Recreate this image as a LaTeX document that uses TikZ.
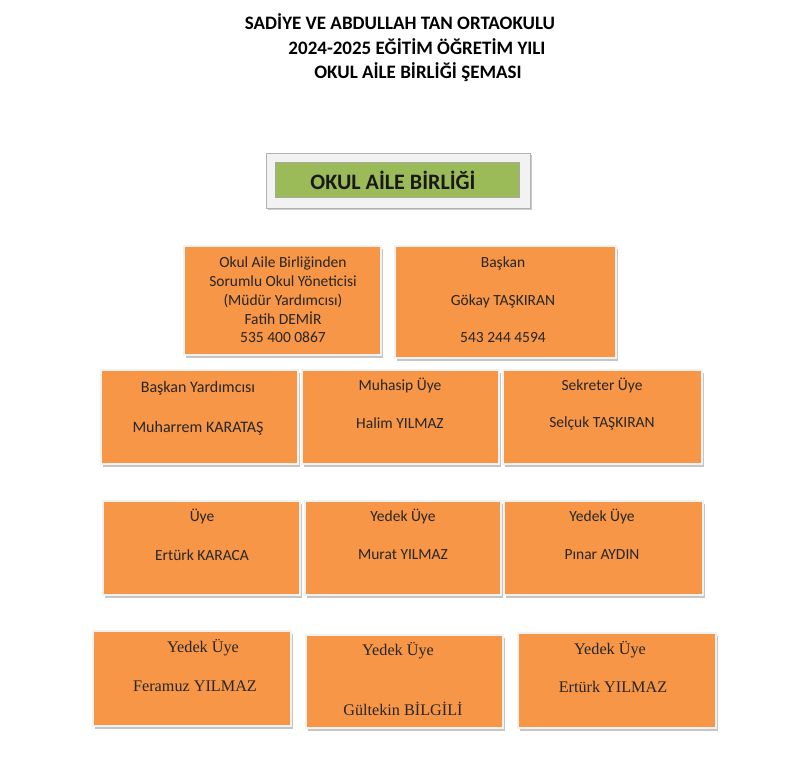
\documentclass[tikz,border=0pt]{standalone}
\usepackage{fontspec}
\setmainfont{Carlito}
\newfontfamily\cambriafont{Liberation Serif}
\usepackage{tikz}
\usetikzlibrary{shadows}
\definecolor{boxorange}{RGB}{247,150,70}
\definecolor{boxgreen}{RGB}{155,187,89}
\definecolor{framegray}{RGB}{242,242,242}

\begin{document}
\begin{tikzpicture}[x=1pt, y=-1pt,
    orangebox/.style={rectangle, fill=boxorange, draw=framegray, line width=2.5pt, inner sep=0pt,
        drop shadow={shadow xshift=1.5pt, shadow yshift=-2.5pt, fill=black!45}},
    lbl/.style={font=\fontsize{15.5}{18.75}\selectfont, text=black!85, inner sep=0pt},
    serlbl/.style={font=\cambriafont\fontsize{16.2}{19}\selectfont, text=black!85, inner sep=0pt},
    titlelbl/.style={font=\bfseries\fontsize{19}{22}\selectfont, inner sep=0pt}]
    \useasboundingbox[fill=white] (0,0) rectangle (811,768);

    \node[titlelbl] (title1) at (400,22) {SADİYE VE ABDULLAH TAN ORTAOKULU};
    \node[titlelbl] (title2) at (417,47) {2024-2025 EĞİTİM ÖĞRETİM YILI};
    \node[titlelbl] (title3) at (418,72) {OKUL AİLE BİRLİĞİ ŞEMASI};

    % header box
    \node[rectangle, fill=framegray, draw=black!30, line width=0.6pt, minimum width=264pt, minimum height=55pt,
        drop shadow={shadow xshift=1.5pt, shadow yshift=-2pt, fill=black!40}] (frame) at (398,180.5) {};
    \node[rectangle, fill=boxgreen, draw=black!35, line width=0.6pt, minimum width=244pt, minimum height=35pt,
        inner sep=0pt] (birlik) at (397,179.5) {};
    \node[font=\bfseries\fontsize{22}{26}\selectfont, text=black!90] (birlikt) at (393,180) {OKUL AİLE BİRLİĞİ};

    % first row
    \node[orangebox, minimum width=197pt, minimum height=109pt] (yonetici) at (282.5,300.5) {};
    \node[orangebox, minimum width=221pt, minimum height=112pt] (baskan) at (505.5,302) {};
    \node[lbl, align=center] (yoneticit) at (283,300) {Okul Aile Birliğinden\\Sorumlu Okul Yöneticisi\\(Müdür Yardımcısı)\\Fatih DEMİR\\535 400 0867};
    \node[lbl] (baskan1) at (503,263) {Başkan};
    \node[lbl] (baskan2) at (503,301) {Gökay TAŞKIRAN};
    \node[lbl] (baskan3) at (503,338) {543 244 4594};

    % second row
    \node[orangebox, minimum width=197pt, minimum height=94pt] (yardimci) at (199.5,417) {};
    \node[orangebox, minimum width=197pt, minimum height=94pt] (muhasip) at (400.5,417) {};
    \node[orangebox, minimum width=199pt, minimum height=94pt] (sekreter) at (602.5,417) {};
    \node[lbl, font=\fontsize{16}{19}\selectfont] (yardimci1) at (198,388) {Başkan Yardımcısı};
    \node[lbl, font=\fontsize{16}{19}\selectfont] (yardimci2) at (198,428) {Muharrem KARATAŞ};
    \node[lbl] (muhasip1) at (400,386) {Muhasip Üye};
    \node[lbl] (muhasip2) at (400,423) {Halim YILMAZ};
    \node[lbl] (sekreter1) at (602,386) {Sekreter Üye};
    \node[lbl] (sekreter2) at (602,423) {Selçuk TAŞKIRAN};

    % third row
    \node[orangebox, minimum width=197pt, minimum height=94pt] (uye) at (201.5,548) {};
    \node[orangebox, minimum width=196pt, minimum height=94pt] (yedekA) at (403,548) {};
    \node[orangebox, minimum width=199pt, minimum height=94pt] (yedekB) at (603.5,548) {};
    \node[lbl] (uye1) at (202,517) {Üye};
    \node[lbl] (uye2) at (202,555) {Ertürk KARACA};
    \node[lbl] (yedekA1) at (403,517) {Yedek Üye};
    \node[lbl] (yedekA2) at (403,555) {Murat YILMAZ};
    \node[lbl] (yedekB1) at (602,517) {Yedek Üye};
    \node[lbl] (yedekB2) at (602,555) {Pınar AYDIN};

    % fourth row
    \node[orangebox, minimum width=198pt, minimum height=95pt] (yedekC) at (192,678.5) {};
    \node[orangebox, minimum width=197pt, minimum height=93pt] (yedekD) at (404.5,681.5) {};
    \node[orangebox, minimum width=198pt, minimum height=95pt] (yedekE) at (617,680.5) {};
    \node[serlbl] (yedekC1) at (203,648) {Yedek Üye};
    \node[serlbl] (yedekC2) at (195,686) {Feramuz YILMAZ};
    \node[serlbl] (yedekD1) at (398,651) {Yedek Üye};
    \node[serlbl] (yedekD2) at (403,709) {Gültekin BİLGİLİ};
    \node[serlbl] (yedekE1) at (610,650) {Yedek Üye};
    \node[serlbl] (yedekE2) at (613,687) {Ertürk YILMAZ};
\end{tikzpicture}
\end{document}
